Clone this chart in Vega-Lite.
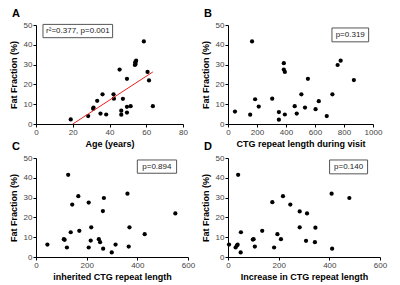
{
  "$schema": "https://vega.github.io/schema/vega-lite/v6.json",
  "padding": {"left": 9, "top": 8, "right": 5, "bottom": 5},
  "background": "white",
  "config": {
    "view": {"stroke": null},
    "font": "Liberation Sans",
    "axis": {"grid": false, "domainColor": "#000", "tickColor": "#000", "tickSize": 3, "labelFont": "Liberation Sans", "labelFontSize": 8, "labelColor": "#444", "labelOverlap": false, "labelFlush": false, "labelBound": false, "titleFont": "Liberation Sans", "titleFontSize": 9, "titleFontWeight": "bold", "titleColor": "#000", "labelPadding": 1},
    "axisX": {"titlePadding": 3},
    "axisY": {"titlePadding": 5},
    "title": {"font": "Liberation Sans", "fontSize": 11, "fontWeight": "bold", "anchor": "start", "frame": "bounds", "color": "#000", "offset": 2, "dx": 3}
  },
  "datasets": {
    "A": [{"x":18.9,"y":2.3},{"x":28.4,"y":4.0},{"x":31.1,"y":7.7},{"x":31.3,"y":8.3},{"x":33.3,"y":11.7},{"x":35.1,"y":5.3},{"x":36.2,"y":15.0},{"x":38.2,"y":4.8},{"x":42.2,"y":15.0},{"x":42.4,"y":12.8},{"x":45.5,"y":27.5},{"x":46.4,"y":6.7},{"x":46.4,"y":4.7},{"x":47.3,"y":12.7},{"x":49.5,"y":22.8},{"x":49.5,"y":8.7},{"x":49.5,"y":5.8},{"x":51.5,"y":9.0},{"x":53.8,"y":29.8},{"x":54.0,"y":31.2},{"x":54.5,"y":32.0},{"x":54.2,"y":30.3},{"x":58.7,"y":41.7},{"x":60.7,"y":26.3},{"x":61.5,"y":22.0},{"x":63.6,"y":9.0}],
    "Aline": [{"x":20,"y":0},{"x":63.6,"y":26.3}],
    "B": [{"x":48,"y":6.3},{"x":153,"y":4.7},{"x":166,"y":41.7},{"x":187,"y":12.5},{"x":212,"y":8.8},{"x":305,"y":12.8},{"x":351,"y":6.0},{"x":351,"y":2.2},{"x":385,"y":30.7},{"x":385,"y":27.5},{"x":392,"y":26.3},{"x":392,"y":4.8},{"x":460,"y":9.0},{"x":474,"y":5.3},{"x":506,"y":15.0},{"x":551,"y":22.8},{"x":531,"y":8.3},{"x":626,"y":11.5},{"x":604,"y":7.5},{"x":681,"y":4.0},{"x":720,"y":15.0},{"x":756,"y":29.8},{"x":777,"y":32.0},{"x":868,"y":22.2}],
    "C": [{"x":45,"y":6.3},{"x":110,"y":9.0},{"x":113,"y":8.7},{"x":122,"y":4.8},{"x":127,"y":41.5},{"x":137,"y":12.5},{"x":143,"y":26.5},{"x":167,"y":30.7},{"x":171,"y":13.2},{"x":208,"y":27.5},{"x":208,"y":4.8},{"x":218,"y":15.0},{"x":216,"y":8.3},{"x":248,"y":9.0},{"x":253,"y":7.5},{"x":264,"y":23.2},{"x":268,"y":29.8},{"x":265,"y":4.2},{"x":299,"y":2.3},{"x":314,"y":6.3},{"x":361,"y":32.0},{"x":366,"y":5.3},{"x":369,"y":15.0},{"x":429,"y":11.5},{"x":550,"y":22.0}],
    "D": [{"x":4,"y":6.3},{"x":30,"y":4.8},{"x":35,"y":5.8},{"x":38,"y":6.2},{"x":40,"y":41.5},{"x":50,"y":2.3},{"x":51,"y":12.5},{"x":98,"y":8.8},{"x":101,"y":9.0},{"x":106,"y":5.3},{"x":135,"y":13.2},{"x":175,"y":27.7},{"x":182,"y":4.8},{"x":195,"y":11.5},{"x":209,"y":9.0},{"x":217,"y":30.7},{"x":246,"y":26.5},{"x":283,"y":23.0},{"x":283,"y":15.0},{"x":308,"y":8.2},{"x":312,"y":22.0},{"x":343,"y":7.5},{"x":345,"y":14.8},{"x":409,"y":32.0},{"x":411,"y":4.2},{"x":479,"y":29.8}],
    "blank": [{}]
  },
  "columns": 2,
  "spacing": {"column": 40, "row": 34},
  "bounds": "flush",
  "concat": [
    {
      "title": "A",
      "width": 147, "height": 99,
      "layer": [
        {"data": {"name": "A"}, "mark": {"type": "circle", "size": 18, "color": "#000", "opacity": 1},
         "encoding": {
           "x": {"field": "x", "type": "quantitative", "scale": {"domain": [0, 80], "nice": false}, "axis": {"title": "Age (years)", "tickCount": 4, "labelOverlap": false}},
           "y": {"field": "y", "type": "quantitative", "scale": {"domain": [0, 50], "nice": false}, "axis": {"title": "Fat Fraction (%)", "tickCount": 5, "labelOverlap": false}}}},
        {"data": {"name": "Aline"}, "mark": {"type": "line", "color": "#e8201c", "strokeWidth": 1},
         "encoding": {"x": {"field": "x", "type": "quantitative"}, "y": {"field": "y", "type": "quantitative"}}},
        {"data": {"name": "blank"}, "mark": {"type": "rect", "fill": "white", "stroke": "#555", "strokeWidth": 1},
         "encoding": {"x": {"datum": 3.8}, "x2": {"datum": 41.7}, "y": {"datum": 43.6}, "y2": {"datum": 50.3}}},
        {"data": {"name": "blank"}, "mark": {"type": "text", "fontSize": 8, "color": "#222", "font": "Liberation Sans"},
         "encoding": {"x": {"datum": 22.8}, "y": {"datum": 47}, "text": {"value": "r²=0.377, p=0.001"}}}
      ]
    },
    {
      "title": "B",
      "width": 145, "height": 99,
      "layer": [
        {"data": {"name": "B"}, "mark": {"type": "circle", "size": 18, "color": "#000", "opacity": 1},
         "encoding": {
           "x": {"field": "x", "type": "quantitative", "scale": {"domain": [0, 1000], "nice": false}, "axis": {"title": "CTG repeat length during visit", "tickCount": 5, "format": "d", "labelOverlap": false}},
           "y": {"field": "y", "type": "quantitative", "scale": {"domain": [0, 50], "nice": false}, "axis": {"title": "Fat Fraction (%)", "tickCount": 5, "labelOverlap": false}}}},
        {"data": {"name": "blank"}, "mark": {"type": "rect", "fill": "white", "stroke": "#555", "strokeWidth": 1},
         "encoding": {"x": {"datum": 717}, "x2": {"datum": 970}, "y": {"datum": 41.5}, "y2": {"datum": 48.5}}},
        {"data": {"name": "blank"}, "mark": {"type": "text", "fontSize": 8, "color": "#222", "font": "Liberation Sans"},
         "encoding": {"x": {"datum": 843}, "y": {"datum": 45}, "text": {"value": "p=0.319"}}}
      ]
    },
    {
      "title": "C",
      "width": 152, "height": 99,
      "layer": [
        {"data": {"name": "C"}, "mark": {"type": "circle", "size": 18, "color": "#000", "opacity": 1},
         "encoding": {
           "x": {"field": "x", "type": "quantitative", "scale": {"domain": [0, 600], "nice": false}, "axis": {"title": "inherited CTG repeat length", "tickCount": 3, "labelOverlap": false}},
           "y": {"field": "y", "type": "quantitative", "scale": {"domain": [0, 50], "nice": false}, "axis": {"title": "Fat Fraction (%)", "tickCount": 5, "labelOverlap": false}}}},
        {"data": {"name": "blank"}, "mark": {"type": "rect", "fill": "white", "stroke": "#555", "strokeWidth": 1},
         "encoding": {"x": {"datum": 400}, "x2": {"datum": 555}, "y": {"datum": 42.3}, "y2": {"datum": 49}}},
        {"data": {"name": "blank"}, "mark": {"type": "text", "fontSize": 8, "color": "#222", "font": "Liberation Sans"},
         "encoding": {"x": {"datum": 477}, "y": {"datum": 45.6}, "text": {"value": "p=0.894"}}}
      ]
    },
    {
      "title": "D",
      "width": 152, "height": 99,
      "layer": [
        {"data": {"name": "D"}, "mark": {"type": "circle", "size": 18, "color": "#000", "opacity": 1},
         "encoding": {
           "x": {"field": "x", "type": "quantitative", "scale": {"domain": [0, 600], "nice": false}, "axis": {"title": "Increase in CTG repeat length", "tickCount": 3, "labelOverlap": false}},
           "y": {"field": "y", "type": "quantitative", "scale": {"domain": [0, 50], "nice": false}, "axis": {"title": "Fat Fraction (%)", "tickCount": 5, "labelOverlap": false}}}},
        {"data": {"name": "blank"}, "mark": {"type": "rect", "fill": "white", "stroke": "#555", "strokeWidth": 1},
         "encoding": {"x": {"datum": 401}, "x2": {"datum": 551}, "y": {"datum": 42}, "y2": {"datum": 49}}},
        {"data": {"name": "blank"}, "mark": {"type": "text", "fontSize": 8, "color": "#222", "font": "Liberation Sans"},
         "encoding": {"x": {"datum": 476}, "y": {"datum": 45.5}, "text": {"value": "p=0.140"}}}
      ]
    }
  ]
}
